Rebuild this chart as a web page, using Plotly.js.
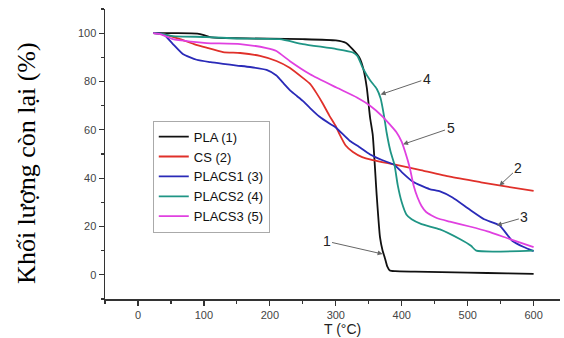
<!DOCTYPE html>
<html>
<head>
<meta charset="utf-8">
<script src="https://cdn.plot.ly/plotly-3.0.1.min.js"></script>
<style>html,body{margin:0;padding:0;background:#fff}#chart{width:564px;height:338px}</style>
</head>
<body>
<div id="chart"></div>
<script>
// Temperature (°C) and remaining mass (%) for each sample
const plaT  = [23, 60, 90, 100, 109, 130, 200, 250, 300, 315, 325, 336, 342, 347, 352, 356, 362, 367, 371, 374, 378, 382, 390, 420, 500, 560, 600];
const plaW  = [100, 100, 99.8, 99.2, 98.4, 98, 97.7, 97.5, 97, 96, 93.5, 89.8, 85, 77.5, 65, 58, 33, 15.6, 10, 7.4, 3.5, 1.8, 1.5, 1.3, 0.9, 0.6, 0.4];

const csT   = [23, 40, 64, 85, 104, 129, 155, 185, 210, 230, 250, 261, 270, 280, 290, 300, 306, 315, 326, 340, 356, 392, 427, 473, 520, 548, 600];
const csW   = [100, 99.5, 97.5, 95.5, 94, 92.2, 91.8, 90.6, 88.5, 85.7, 81.5, 79, 75.5, 71, 66, 61.5, 58, 53.5, 50.8, 48.7, 47.5, 45.5, 43.4, 40.6, 38.3, 37, 34.7];

const c1T   = [23, 35, 41, 53, 68, 89, 110, 129, 150, 170, 195, 210, 220, 232, 241, 250, 261, 275, 291, 300, 321, 335, 352, 370, 389, 400, 417, 442, 458, 477, 503, 525, 548, 568, 585, 600];
const c1W   = [100, 99.8, 99, 95.5, 91.4, 89, 88, 87.3, 86.6, 86, 84.8, 82.5, 79.5, 76, 74, 72, 69, 65.5, 62.5, 61, 55.5, 53, 49.8, 47.5, 45.5, 42.5, 38.5, 35.5, 34.5, 32, 27, 23, 20.5, 14, 11.5, 9.8];

const c2T   = [23, 40, 53, 104, 150, 215, 250, 301, 326, 333, 341, 352, 362, 368, 373, 377, 383, 389, 394, 400, 407, 415, 430, 458, 488, 505, 513, 600];
const c2W   = [100, 99.5, 98.8, 98.4, 97.8, 97.5, 95.5, 93.4, 92, 90.5, 85.5, 80.5, 77, 73, 66, 59, 51, 45.5, 37, 30, 25, 23, 21, 18.8, 14.8, 12, 10, 10];

const c3T   = [23, 35, 53, 80, 104, 155, 195, 210, 230, 261, 301, 332, 352, 371, 392, 400, 405, 412, 418, 424, 430, 437, 453, 473, 503, 530, 564, 600];
const c3W   = [100, 99.5, 97.5, 96.5, 95.9, 95.5, 93.8, 92.6, 88.5, 83, 77.5, 73.4, 70, 65.5, 59, 55, 51, 44.5, 37, 32, 28.5, 26, 23.5, 22, 20, 18, 14.8, 11.5];

const seriesNames = ['PLA (1)', 'CS (2)', 'PLACS1 (3)', 'PLACS2 (4)', 'PLACS3 (5)'];
const seriesColors = ['#111111', '#e0302a', '#2a2ab8', '#1f9585', '#e040e0'];

// Curve labels with arrows: label text, arrow tip (T, W), label position (T, W)
const labelText = ['1', '2', '3', '4', '5'];
const tipT  = [371, 548, 544, 368, 402];
const tipW  = [8.6, 36.9, 20.5, 74.6, 54];
const textT = [286, 577, 586, 438, 474];
const textW = [13.9, 44.3, 23.8, 81.1, 60.7];

const xs = [plaT, csT, c1T, c2T, c3T];
const ys = [plaW, csW, c1W, c2W, c3W];

const traces = xs.map((x, i) => ({
  x: x, y: ys[i], type: 'scatter', mode: 'lines', name: seriesNames[i],
  line: {color: seriesColors[i], width: 1.8, shape: 'spline', smoothing: 0.5}
}));

const anns = labelText.map((t, i) => ({
  x: tipT[i], y: tipW[i], xref: 'x', yref: 'y',
  ax: textT[i], ay: textW[i], axref: 'x', ayref: 'y',
  text: t, showarrow: true, arrowhead: 2, arrowsize: 1, arrowwidth: 1,
  arrowcolor: '#666', standoff: 0, startstandoff: 0,
  font: {family: 'Liberation Sans, Arial, sans-serif', size: 14, color: '#222'}
}));

anns.push({
  xref: 'paper', yref: 'paper', x: -0.171, y: 0.47, xanchor: 'center', yanchor: 'middle',
  text: 'Khối lượng còn lại (%)', textangle: -90, showarrow: false,
  font: {family: 'Liberation Serif, Times New Roman, serif', size: 26, color: '#000'}
});
anns.push({
  xref: 'paper', yref: 'paper', x: 0.521, y: -0.1345, xanchor: 'center', yanchor: 'bottom',
  text: 'T (°C)', showarrow: false, borderpad: 0,
  font: {family: 'Liberation Sans, Arial, sans-serif', size: 14, color: '#222'}
});

const axisCommon = {
  showline: true, linecolor: '#333', linewidth: 1.5, mirror: false,
  ticks: 'outside', ticklen: 5, tickwidth: 1.2, tickcolor: '#333',
  showgrid: false, zeroline: false,
  tickfont: {family: 'Liberation Sans, Arial, sans-serif', size: 11, color: '#444'}
};

const layout = {
  width: 564, height: 338,
  margin: {l: 105, r: 4, t: 9, b: 39},
  paper_bgcolor: '#fff', plot_bgcolor: '#fff',
  showlegend: true,
  legend: {
    x: 0.105, y: 0.615, xanchor: 'left', yanchor: 'top',
    bordercolor: '#aaa', borderwidth: 1, bgcolor: '#fff',
    font: {family: 'Liberation Sans, Arial, sans-serif', size: 13, color: '#111'},
    tracegroupgap: 0
  },
  xaxis: Object.assign({}, axisCommon, {
    range: [-50, 640], dtick: 100, tick0: 0,
    minor: {dtick: 50, tick0: 0, ticks: 'outside', ticklen: 3, tickcolor: '#333', showgrid: false}
  }),
  yaxis: Object.assign({}, axisCommon, {
    range: [-10, 110], dtick: 20, tick0: 0,
    minor: {dtick: 10, tick0: 0, ticks: 'outside', ticklen: 3, tickcolor: '#333', showgrid: false}
  }),
  annotations: anns
};

Plotly.newPlot('chart', traces, layout, {displayModeBar: false, staticPlot: true});
</script>
</body>
</html>
